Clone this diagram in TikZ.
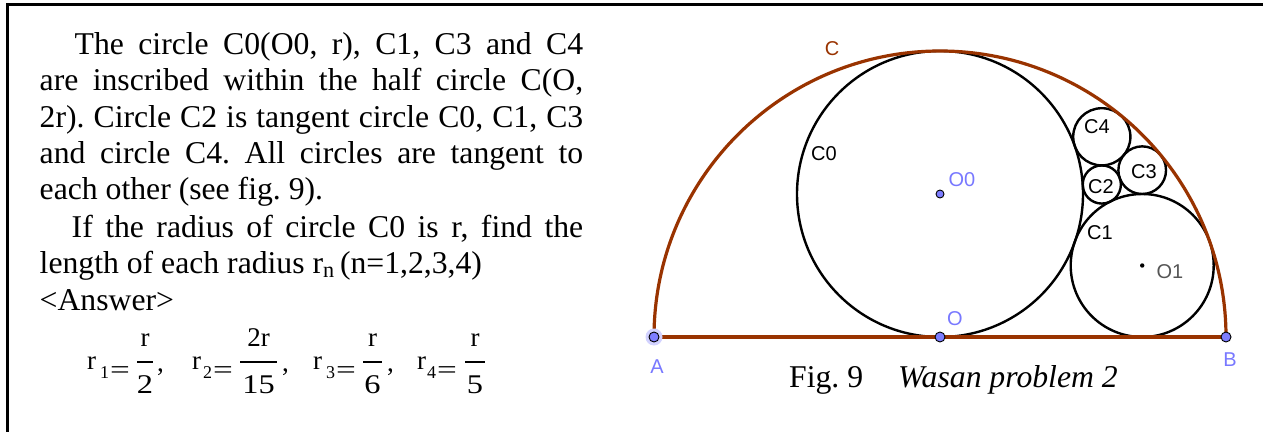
\documentclass[tikz,border=0pt]{standalone}
\usepackage{fontspec}
\usepackage{graphicx}
\usetikzlibrary{calc}
\setmainfont{Liberation Serif}
\newfontfamily\lblfont{Liberation Sans}
\definecolor{ggbrown}{RGB}{153,51,0}
\definecolor{ggblue}{RGB}{125,125,255}
\definecolor{gglabel}{RGB}{120,120,255}
\definecolor{gggray}{RGB}{85,85,85}
\frenchspacing
% one answer item: id, r x, sub digit, digit x, '=' centre x, bar x1, bar x2, numerator, denominator
\newcommand{\ansitem}[9]{%
  \node[ansr] (#1r) at (#2,63) {r};
  \node[anssub] (#1s) at (#4,54) {#3};
  \node[anseq] (#1e) at (#5,53.5) {\scalebox{1.35}[1]{=}};
  \coordinate (#1b1) at (#6,70);
  \coordinate (#1b2) at (#7,70);
  \draw[ansbar] (#1b1) -- (#1b2);
  \node[ansr,anchor=base] (#1n) at ($(#1b1)!0.5!(#1b2)+(0,16)$) {#8};
  \node[ansr,anchor=base,font=\fontsize{27}{30}\selectfont] (#1d) at ($(#1b1)!0.5!(#1b2)+(0,-31)$) {\scalebox{1.2}[1]{#9}};
}
\begin{document}
\begin{tikzpicture}[x=1pt,y=1pt,
  txt/.style={anchor=base west,inner sep=0pt,font=\fontsize{31.7}{36}\selectfont},
  lbl/.style={inner sep=0pt,font=\lblfont\fontsize{20}{22}\selectfont},
  pt/.style={circle,fill=ggblue,draw=black,line width=0.9pt,inner sep=0pt,minimum size=10pt},
  circ/.style={draw=black,line width=2.4pt},
  semi/.style={draw=ggbrown,line width=3.2pt},
  frm/.style={draw=black,line width=3pt},
  ansr/.style={anchor=base west,inner sep=0pt,font=\fontsize{27}{30}\selectfont},
  anssub/.style={anchor=base west,inner sep=0pt,font=\fontsize{18}{20}\selectfont},
  anseq/.style={anchor=base,inner sep=0pt,font=\fontsize{26}{30}\selectfont},
  ansbar/.style={draw=black,line width=1.3pt}]
\useasboundingbox (0,0) rectangle (1263,432);
% frame
\coordinate (f1) at (1263,427.5);
\coordinate (f2) at (7.5,427.5);
\coordinate (f3) at (7.5,0);
\draw[frm] (f1) -- (f2) -- (f3);
% text
\node[txt] (l1) at (74.5,377.7) {\makebox[508.5pt][s]{The circle C0(O0, r), C1, C3 and C4}};
\node[txt] (l2) at (39.5,341.3) {\makebox[543.5pt][s]{are inscribed within the half circle C(O,}};
\node[txt] (l3) at (39.5,304.9) {\makebox[543.5pt][s]{2r). Circle C2 is tangent circle C0, C1, C3}};
\node[txt] (l4) at (39.5,268.5) {\makebox[543.5pt][s]{and circle C4. All circles are tangent to}};
\node[txt] (l5) at (39.5,232.1) {each other (see fig. 9).};
\node[txt] (l6) at (71.5,194.2) {\makebox[511.5pt][s]{If the radius of circle C0 is r, find the}};
\node[txt] (l7) at (39.5,158.7) {length of each radius r\textsubscript{n}\,(n=1,2,3,4)};
\node[txt] (l8) at (39.5,122) {<Answer>};
% answers
\ansitem{a1}{87}{1}{100}{120}{137}{153}{r}{2}
\ansitem{a2}{192}{2}{203}{223}{240}{277}{2r}{15}
\ansitem{a3}{313}{3}{326}{346}{363}{382}{r}{6}
\ansitem{a4}{417}{4}{427}{447}{465}{485}{r}{5}
\node[ansr] (c1) at (157,61) {,};
\node[ansr] (c2) at (282,61) {,};
\node[ansr] (c3) at (387,61) {,};
% geometry
\coordinate (O) at (940,95);
\coordinate (A) at (654,95);
\coordinate (B) at (1226,95);
\coordinate (O0) at (940,238);
\coordinate (O1) at (1142.2,166.5);
\coordinate (O2) at (1101.8,247.5);
\coordinate (O3) at (1142.2,261.8);
\coordinate (O4) at (1101.8,295.2);
\draw[circ] (O0) circle (143);
\draw[circ] (O1) circle (71.5);
\draw[circ] (O2) circle (19.07);
\draw[circ] (O3) circle (23.83);
\draw[circ] (O4) circle (28.6);
\draw[semi] (B) arc (0:180:286);
\draw[semi] (A) -- (B);
% points
\fill[ggblue!35] (A) circle (8.5);
\node[pt] (pA) at (A) {};
\node[pt] (pO) at (O) {};
\node[pt] (pB) at (B) {};
\node[pt,minimum size=8pt] (pO0) at (O0) {};
\fill[black] (O1) circle (2.2);
% labels
\node[lbl,text=ggbrown] (lC) at (832,383) {C};
\node[lbl] (lC0) at (824,278) {C0};
\node[lbl,text=gglabel] (lO0) at (962,252) {O0};
\node[lbl] (lC4) at (1097,305) {C4};
\node[lbl] (lC3) at (1144,260) {C3};
\node[lbl] (lC2) at (1101,245) {C2};
\node[lbl] (lC1) at (1100,199) {C1};
\node[lbl,text=gggray] (lO1) at (1170,160) {O1};
\node[lbl,text=gglabel] (lO) at (955,113) {O};
\node[lbl,text=gglabel] (lA) at (657,65) {A};
\node[lbl,text=gglabel] (lB) at (1230,72) {B};
% caption
\node[txt] (cap) at (789,45) {Fig. 9\hspace{35pt}\textit{Wasan problem 2}};
\end{tikzpicture}
\end{document}
